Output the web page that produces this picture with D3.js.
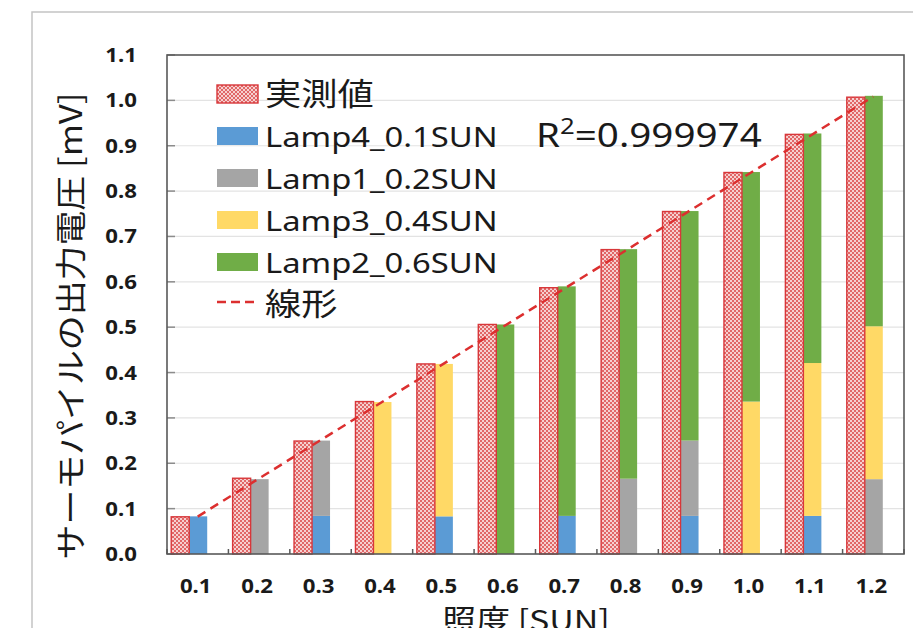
<!DOCTYPE html>
<html lang="ja">
<head>
<meta charset="UTF-8">
<title>照度と出力電圧</title>
<script src="https://cdn.jsdelivr.net/npm/d3@7"></script>
<style>
  body { margin: 0; background: #fff; }
  text { font-family: "Noto Sans", "Noto Sans CJK JP", sans-serif; fill: #1a1a1a; }
  .jp { font-family: "Noto Sans CJK JP", "Noto Sans", sans-serif; }
  .tick-label { font-weight: bold; font-size: 19px; }
</style>
</head>
<body>
<svg id="chart" width="913" height="628"></svg>
<script>
// data
var categories = ['0.1', '0.2', '0.3', '0.4', '0.5', '0.6', '0.7', '0.8', '0.9', '1.0', '1.1', '1.2']
var measured = [0.082, 0.167, 0.249, 0.336, 0.419, 0.506, 0.587, 0.671, 0.755, 0.841, 0.925, 1.007]
var lamp4 = [0.083, 0, 0.084, 0, 0.083, 0, 0.084, 0, 0.084, 0, 0.084, 0]
var lamp1 = [0, 0.165, 0.166, 0, 0, 0, 0, 0.166, 0.166, 0, 0, 0.165]
var lamp3 = [0, 0, 0, 0.335, 0.336, 0, 0, 0, 0, 0.336, 0.337, 0.337]
var lamp2 = [0, 0, 0, 0, 0, 0.506, 0.506, 0.506, 0.506, 0.506, 0.506, 0.508]
var yTicks = [0, 0.1, 0.2, 0.3, 0.4, 0.5, 0.6, 0.7, 0.8, 0.9, 1.0, 1.1]
var seriesNames = ['Lamp4_0.1SUN', 'Lamp1_0.2SUN', 'Lamp3_0.4SUN', 'Lamp2_0.6SUN']
var seriesColors = ['#5b9bd5', '#a5a5a5', '#ffd966', '#70ad47']
var r2Text = '0.999974'

var plotL = 167, plotR = 904, plotT = 55, plotB = 554
var sx = 1.17   // the source text is a bit wide

var svg = d3.select('#chart')

var x = d3.scaleBand().domain(categories).range([plotL, plotR])
var y = d3.scaleLinear().domain([0, 1.1]).range([plotB, plotT])
var cx = function (c) { return x(c) + x.bandwidth() / 2 }

// hatch pattern for 実測値
var defs = svg.append('defs')
var pat = defs.append('pattern').attr('id', 'hatch')
    .attr('width', 4).attr('height', 4).attr('patternUnits', 'userSpaceOnUse')
pat.append('rect').attr('width', 4).attr('height', 4).attr('fill', '#f6d0d0')
pat.append('rect').attr('width', 2).attr('height', 2).attr('fill', '#e16767')
pat.append('rect').attr('x', 2).attr('y', 2).attr('width', 2).attr('height', 2).attr('fill', '#e16767')

// outer frame
svg.append('path').attr('d', 'M32,628V12H913')
    .attr('fill', 'none').attr('stroke', '#c4c4c4').attr('stroke-width', 1.5)

// grid lines
svg.append('g').selectAll('line').data(yTicks.slice(1, -1)).join('line')
    .attr('x1', plotL).attr('x2', plotR)
    .attr('y1', function (d) { return y(d) }).attr('y2', function (d) { return y(d) })
    .attr('stroke', '#e3e3e3').attr('stroke-width', 1.2)

// y axis ticks (inward) and labels
svg.append('g').selectAll('line').data(yTicks).join('line')
    .attr('x1', plotL).attr('x2', plotL + 8)
    .attr('y1', function (d) { return y(d) }).attr('y2', function (d) { return y(d) })
    .attr('stroke', '#8c8c8c').attr('stroke-width', 1.5)

svg.append('g').selectAll('g').data(yTicks).join('g')
    .attr('transform', function (d) { return 'translate(137,' + (y(d) + 7) + ') scale(' + sx + ',1)' })
    .append('text').attr('class', 'tick-label').attr('text-anchor', 'end')
    .text(function (d) { return d3.format('.1f')(d) })

// stacked lamp bars
var rows = categories.map(function (c, i) {
    return { cat: c, l4: lamp4[i], l1: lamp1[i], l3: lamp3[i], l2: lamp2[i] }
})
var stack = d3.stack().keys(['l4', 'l1', 'l3', 'l2'])(rows)
var barW = 18

svg.append('g').selectAll('g').data(stack).join('g')
    .attr('fill', function (d, i) { return seriesColors[i] })
    .selectAll('rect').data(function (d) { return d.filter(function (p) { return p[1] > p[0] }) }).join('rect')
    .attr('x', function (d) { return cx(d.data.cat) - 8.5 })
    .attr('width', barW)
    .attr('y', function (d) { return y(d[1]) })
    .attr('height', function (d) { return y(d[0]) - y(d[1]) })

// measured bars
svg.append('g').selectAll('rect').data(measured).join('rect')
    .attr('x', function (d, i) { return cx(categories[i]) - 8.5 - barW })
    .attr('width', barW)
    .attr('y', function (d) { return y(d) })
    .attr('height', function (d) { return y(0) - y(d) })
    .attr('fill', 'url(#hatch)')
    .attr('stroke', '#d8373a').attr('stroke-width', 1.4)

// linear trend of the measured values
var n = measured.length
var mx = d3.mean(d3.range(n)), my = d3.mean(measured)
var slope = d3.sum(d3.range(n), function (i) { return (i - mx) * (measured[i] - my) }) /
    d3.sum(d3.range(n), function (i) { return (i - mx) * (i - mx) })
var icpt = my - slope * mx
var trend = [0, n - 1].map(function (i) { return [cx(categories[i]), y(icpt + slope * i)] })
svg.append('path').attr('d', d3.line()(trend))
    .attr('fill', 'none').attr('stroke', '#dc2f2f').attr('stroke-width', 2.5)
    .attr('stroke-dasharray', '9,6')

// plot border and x axis
svg.append('rect').attr('x', plotL).attr('y', plotT)
    .attr('width', plotR - plotL).attr('height', plotB - plotT)
    .attr('fill', 'none').attr('stroke', '#595959').attr('stroke-width', 1.6)

svg.append('g').selectAll('line').data(d3.range(categories.length + 1)).join('line')
    .attr('x1', function (i) { return plotL + i * x.bandwidth() })
    .attr('x2', function (i) { return plotL + i * x.bandwidth() })
    .attr('y1', plotB).attr('y2', plotB - 5)
    .attr('stroke', '#595959').attr('stroke-width', 1.5)

svg.append('g').selectAll('g').data(categories).join('g')
    .attr('transform', function (d) { return 'translate(' + (cx(d) - 2) + ',593) scale(' + sx + ',1)' })
    .append('text').attr('class', 'tick-label').attr('text-anchor', 'middle')
    .text(function (d) { return d })

// axis titles
svg.append('g').attr('transform', 'translate(526,631) scale(' + sx + ',1)')
    .append('text').attr('class', 'jp').attr('text-anchor', 'middle')
    .style('font-size', '29px').text('照度 [SUN]')

svg.append('text').attr('class', 'jp')
    .attr('transform', 'translate(68,326) rotate(-90)')
    .attr('text-anchor', 'middle').attr('dominant-baseline', 'central')
    .attr('textLength', 467).attr('lengthAdjust', 'spacingAndGlyphs')
    .style('font-size', '31px').text('サーモパイルの出力電圧 [mV]')

// legend
var legendItems = [{ name: '実測値', type: 'hatch' }]
    .concat(seriesNames.map(function (s, i) { return { name: s, type: 'bar', color: seriesColors[i] } }))
    .concat([{ name: '線形', type: 'line' }])

var lg = svg.append('g').selectAll('g').data(legendItems).join('g')
    .attr('transform', function (d, i) { return 'translate(217,' + (105 + i * 42) + ')' })

lg.filter(function (d) { return d.type !== 'line' }).append('rect')
    .attr('x', 0).attr('y', -20).attr('width', 41).attr('height', 18)
    .attr('fill', function (d) { return d.type === 'hatch' ? 'url(#hatch)' : d.color })
    .attr('stroke', function (d) { return d.type === 'hatch' ? '#d8373a' : 'none' })
    .attr('stroke-width', 1.4)

lg.filter(function (d) { return d.type === 'line' }).append('line')
    .attr('x1', 0).attr('x2', 40).attr('y1', -13).attr('y2', -13)
    .attr('stroke', '#dc2f2f').attr('stroke-width', 2.5).attr('stroke-dasharray', '9,5')

lg.append('g').attr('transform', 'translate(48,0) scale(' + sx + ',1)')
    .append('text')
    .attr('class', function (d) { return d.type === 'bar' ? null : 'jp' })
    .style('font-size', function (d) { return d.type === 'bar' ? '28px' : '31px' })
    .text(function (d) { return d.name })

// R² label
var r2 = svg.append('g').attr('transform', 'translate(536,147) scale(' + sx + ',1)')
    .append('text').style('font-size', '33px')
r2.append('tspan').text('R')
r2.append('tspan').attr('dy', -13).style('font-size', '22px').text('2')
r2.append('tspan').attr('dy', 13).text('=' + r2Text)
</script>
</body>
</html>
